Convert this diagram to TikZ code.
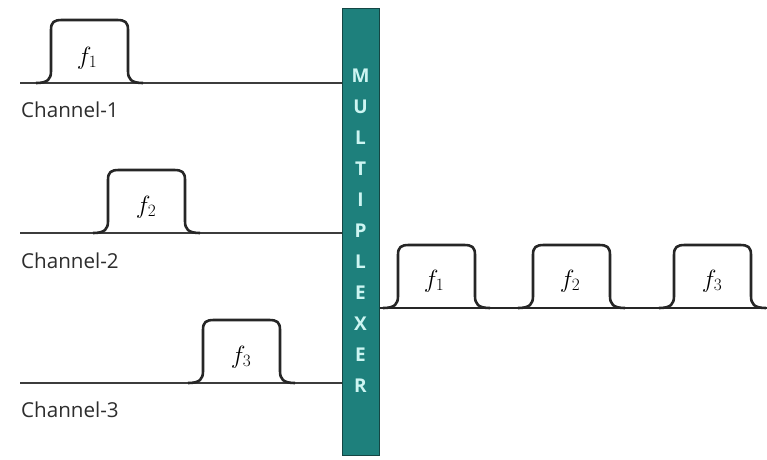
\documentclass[tikz,border=0pt]{standalone}
\usepackage{fontspec}
\setmainfont{Open Sans}
\definecolor{muxfill}{RGB}{30,128,124}
\definecolor{muxedge}{RGB}{20,70,68}
\definecolor{muxtext}{RGB}{205,245,242}
\definecolor{linegray}{RGB}{60,60,60}
\definecolor{labelgray}{RGB}{45,45,45}
\tikzset{
  chline/.style={draw=linegray, line width=1.6pt},
  outline/.style={draw=black!85, line width=2.6pt},
  pulse/.style={draw=black!85, line width=2.6pt, line join=round},
  chlabel/.style={anchor=west, inner sep=0pt, font=\fontsize{20.6}{24}\selectfont, text=labelgray},
  flabel/.style={inner sep=0pt, font=\fontsize{27}{30}\selectfont},
  muxletter/.style={inner sep=0pt, font=\bfseries\fontsize{19}{22}\selectfont, text=muxtext},
}
% a rounded band-pass pulse whose rising edge sits at x = #1 on a base line at y = #2
\newcommand{\bandpulse}[2]{%
  \draw[pulse] (#1-15,#2) .. controls (#1-3,#2) and (#1,#2-4) .. (#1,#2-12)
    -- (#1,#2-53) .. controls (#1,#2-61) and (#1+3,#2-63) .. (#1+11,#2-63)
    -- (#1+66,#2-63) .. controls (#1+74,#2-63) and (#1+77,#2-61) .. (#1+77,#2-53)
    -- (#1+77,#2-12) .. controls (#1+77,#2-4) and (#1+80,#2) .. (#1+92,#2);}
\begin{document}
\begin{tikzpicture}[x=1pt,y=-1pt]
\useasboundingbox (0,0) rectangle (767,459);
\fill[white] (0,0) rectangle (767,459);

% multiplexer bar
\node (mux) [draw=muxedge, fill=muxfill, line width=1.2pt, minimum width=37pt,
  minimum height=447pt, inner sep=0pt, anchor=north west] at (342,8) {};
\foreach \ch [count=\i from 0] in {M,U,L,T,I,P,L,E,X,E,R}
  \node (mx\i) [muxletter] at (360.5,76+31*\i) {\ch};

% input channels
\coordinate (c1) at (20,83);
\coordinate (c2) at (20,233);
\coordinate (c3) at (20,383);
\draw[chline] (c1) -- (c1 -| mux.west);
\draw[chline] (c2) -- (c2 -| mux.west);
\draw[chline] (c3) -- (c3 -| mux.west);
\bandpulse{51}{83}
\bandpulse{108}{233}
\bandpulse{203}{383}
\node (f1in) [flabel] at (87,58) {$f_1$};
\node (f2in) [flabel] at (146,207) {$f_2$};
\node (f3in) [flabel] at (241,357) {$f_3$};
\node (ch1) [chlabel] at (21,110) {Channel-1};
\node (ch2) [chlabel] at (21,261) {Channel-2};
\node (ch3) [chlabel] at (21,410) {Channel-3};

% multiplexed output
\coordinate (outend) at (767,308);
\draw[outline] (outend -| mux.east) -- (outend);
\bandpulse{398}{308}
\bandpulse{533}{308}
\bandpulse{674}{308}
\node (f1out) [flabel] at (434,281) {$f_1$};
\node (f2out) [flabel] at (570,281) {$f_2$};
\node (f3out) [flabel] at (712,281) {$f_3$};
\end{tikzpicture}
\end{document}
